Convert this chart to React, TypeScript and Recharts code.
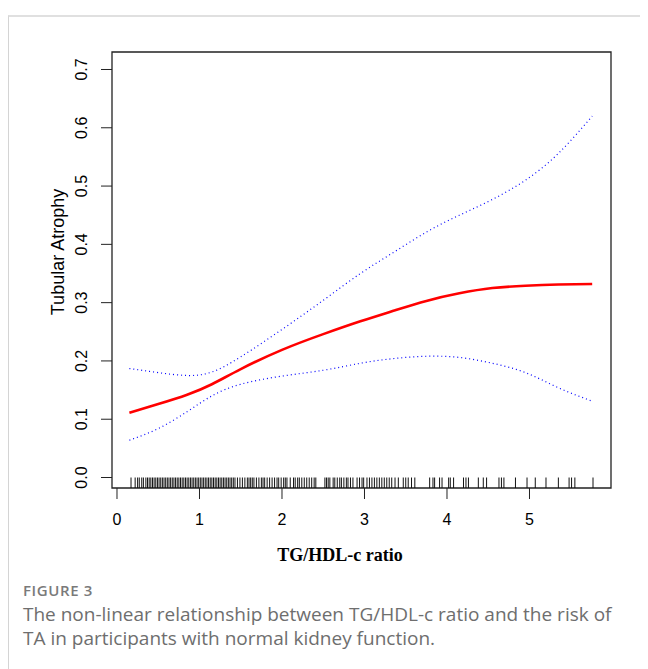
import React from 'react';
import { ComposedChart, Line, Scatter, XAxis, YAxis, ReferenceArea } from 'recharts';

// fitted spline and 95% CI
const ratioX = [0.15, 0.5, 0.85, 1.15, 1.5, 2.0, 2.5, 2.95, 3.35, 3.75, 4.15, 4.55, 4.95, 5.35, 5.76];
const fitY = [0.111, 0.126, 0.142, 0.16, 0.186, 0.219, 0.246, 0.268, 0.286, 0.303, 0.316, 0.325, 0.329, 0.331, 0.332];
const upperY = [0.187, 0.18, 0.175, 0.181, 0.207, 0.254, 0.304, 0.35, 0.386, 0.421, 0.45, 0.477, 0.51, 0.556, 0.62];
const lowerY = [0.064, 0.084, 0.113, 0.14, 0.16, 0.174, 0.184, 0.196, 0.204, 0.208, 0.206, 0.196, 0.18, 0.154, 0.131];

// rug of observed TG/HDL-c values
const rugX = [
  0.17, 0.22, 0.25, 0.27, 0.3, 0.32, 0.35, 0.37, 0.39, 0.41, 0.43, 0.45, 0.47, 0.49, 0.51, 0.53,
  0.55, 0.57, 0.59, 0.61, 0.63, 0.65, 0.67, 0.69, 0.71, 0.73, 0.75, 0.77, 0.79, 0.81, 0.83, 0.85,
  0.87, 0.89, 0.91, 0.93, 0.95, 0.97, 0.99, 1.01, 1.03, 1.05, 1.07, 1.09, 1.11, 1.13, 1.15, 1.17,
  1.19, 1.21, 1.23, 1.25, 1.27, 1.29, 1.31, 1.33, 1.35, 1.37, 1.39, 1.41, 1.43, 1.46, 1.49, 1.52,
  1.55, 1.58, 1.6, 1.62, 1.64, 1.66, 1.69, 1.72, 1.75, 1.77, 1.79, 1.82, 1.85, 1.88, 1.91, 1.94,
  1.96, 1.99, 2.02, 2.04, 2.06, 2.1, 2.14, 2.16, 2.19, 2.21, 2.24, 2.27, 2.3, 2.33, 2.36, 2.39,
  2.41, 2.52, 2.54, 2.56, 2.58, 2.62, 2.64, 2.67, 2.7, 2.72, 2.75, 2.78, 2.8, 2.83, 2.86, 2.91,
  2.94, 2.97, 2.99, 3.03, 3.06, 3.09, 3.12, 3.15, 3.18, 3.21, 3.24, 3.27, 3.3, 3.33, 3.37, 3.41,
  3.47, 3.5, 3.53, 3.57, 3.61, 3.79, 3.83, 3.85, 3.91, 3.94, 4.02, 4.04, 4.08, 4.2, 4.23, 4.26,
  4.38, 4.44, 4.48, 4.63, 4.66, 4.69, 4.83, 4.97, 5.07, 5.2, 5.35, 5.48, 5.51, 5.55, 5.77,
];

const xTicks = [0, 1, 2, 3, 4, 5];
const yTicks = [0, 0.1, 0.2, 0.3, 0.4, 0.5, 0.6, 0.7];
const xDomain = [-0.0606, 5.988];
const yDomain = [-0.018, 0.73];

const curveData = ratioX.map((x, i) => ({ x, fit: fitY[i], upper: upperY[i], lower: lowerY[i] }));
const rugData = rugX.map((x) => ({ x, y: 0 }));

const sans = '"Liberation Sans", Arial, sans-serif';
const boxStroke = '#222';

const YTick = (props: any) => {
  const { x, y, payload } = props;
  return (
    <text
      x={x}
      y={y}
      transform={`rotate(-90, ${x}, ${y})`}
      textAnchor="middle"
      fontFamily={sans}
      fontSize={16}
      fill="#000"
    >
      {payload.value.toFixed(1)}
    </text>
  );
};

const RugMark = (props: any) => {
  const { cx, cy } = props;
  return <line x1={cx} x2={cx} y1={cy} y2={cy + 11} stroke="#111" strokeWidth={1} />;
};

export default function App() {
  return (
    <div style={{ position: 'relative', width: 640, height: 661, fontFamily: sans }}>
      <div
        style={{
          position: 'absolute',
          left: 0,
          top: 7,
          width: 640,
          height: 654,
          borderTop: '2px solid #e0e0e0',
          borderLeft: '1px solid #d4d4d4',
          boxSizing: 'border-box',
        }}
      />
      <div style={{ position: 'absolute', left: 0, top: 0 }}>
        <ComposedChart
          width={640}
          height={570}
          data={curveData}
          margin={{ top: 44, right: 37, bottom: 50, left: 44 }}
        >
          <XAxis
            type="number"
            dataKey="x"
            domain={xDomain}
            allowDataOverflow
            ticks={xTicks}
            interval={0}
            height={40}
            tickSize={11}
            tickMargin={15}
            tick={{ fontSize: 16, fill: '#000', fontFamily: sans }}
            tickLine={{ stroke: boxStroke }}
            axisLine={false}
          />
          <YAxis
            type="number"
            domain={yDomain}
            allowDataOverflow
            ticks={yTicks}
            interval={0}
            width={60}
            tickSize={11}
            tickMargin={14}
            tick={<YTick />}
            tickLine={{ stroke: boxStroke }}
            axisLine={false}
          />
          <ReferenceArea
            x1={xDomain[0]}
            x2={xDomain[1]}
            y1={yDomain[0]}
            y2={yDomain[1]}
            fill="none"
            stroke={boxStroke}
            strokeWidth={1.3}
            ifOverflow="visible"
          />
          <Scatter data={rugData} dataKey="y" shape={<RugMark />} isAnimationActive={false} />
          <Line
            type="natural"
            dataKey="upper"
            stroke="#0000ff"
            strokeWidth={1.2}
            strokeDasharray="1 3"
            dot={false}
            isAnimationActive={false}
          />
          <Line
            type="natural"
            dataKey="lower"
            stroke="#0000ff"
            strokeWidth={1.2}
            strokeDasharray="1 3"
            dot={false}
            isAnimationActive={false}
          />
          <Line
            type="natural"
            dataKey="fit"
            stroke="#ff0000"
            strokeWidth={2.6}
            dot={false}
            isAnimationActive={false}
          />
        </ComposedChart>
      </div>
      <div
        style={{
          position: 'absolute',
          left: 50,
          top: 244,
          transform: 'translate(-50%, -50%) rotate(-90deg)',
          whiteSpace: 'nowrap',
          fontSize: 18,
          lineHeight: '18px',
        }}
      >
        Tubular Atrophy
      </div>
      <div
        style={{
          position: 'absolute',
          left: 332,
          top: 547,
          transform: 'translate(-50%, -50%)',
          whiteSpace: 'nowrap',
          fontFamily: '"Liberation Serif", "Times New Roman", serif',
          fontWeight: 'bold',
          fontSize: 18,
        }}
      >
        TG/HDL-c ratio
      </div>
      <div
        style={{
          position: 'absolute',
          left: 15,
          top: 572,
          fontFamily: '"Open Sans", sans-serif',
          fontWeight: 600,
          color: '#7a7a7a',
          fontSize: 15,
          letterSpacing: 0.6,
        }}
      >
        FIGURE 3
      </div>
      <div
        style={{
          position: 'absolute',
          left: 15,
          top: 594,
          width: 600,
          fontFamily: '"Open Sans", sans-serif',
          color: '#6e6e6e',
          fontSize: 19,
          lineHeight: '24px',
        }}
      >
        The non-linear relationship between TG/HDL-c ratio and the risk of TA in participants with
        normal kidney function.
      </div>
    </div>
  );
}
